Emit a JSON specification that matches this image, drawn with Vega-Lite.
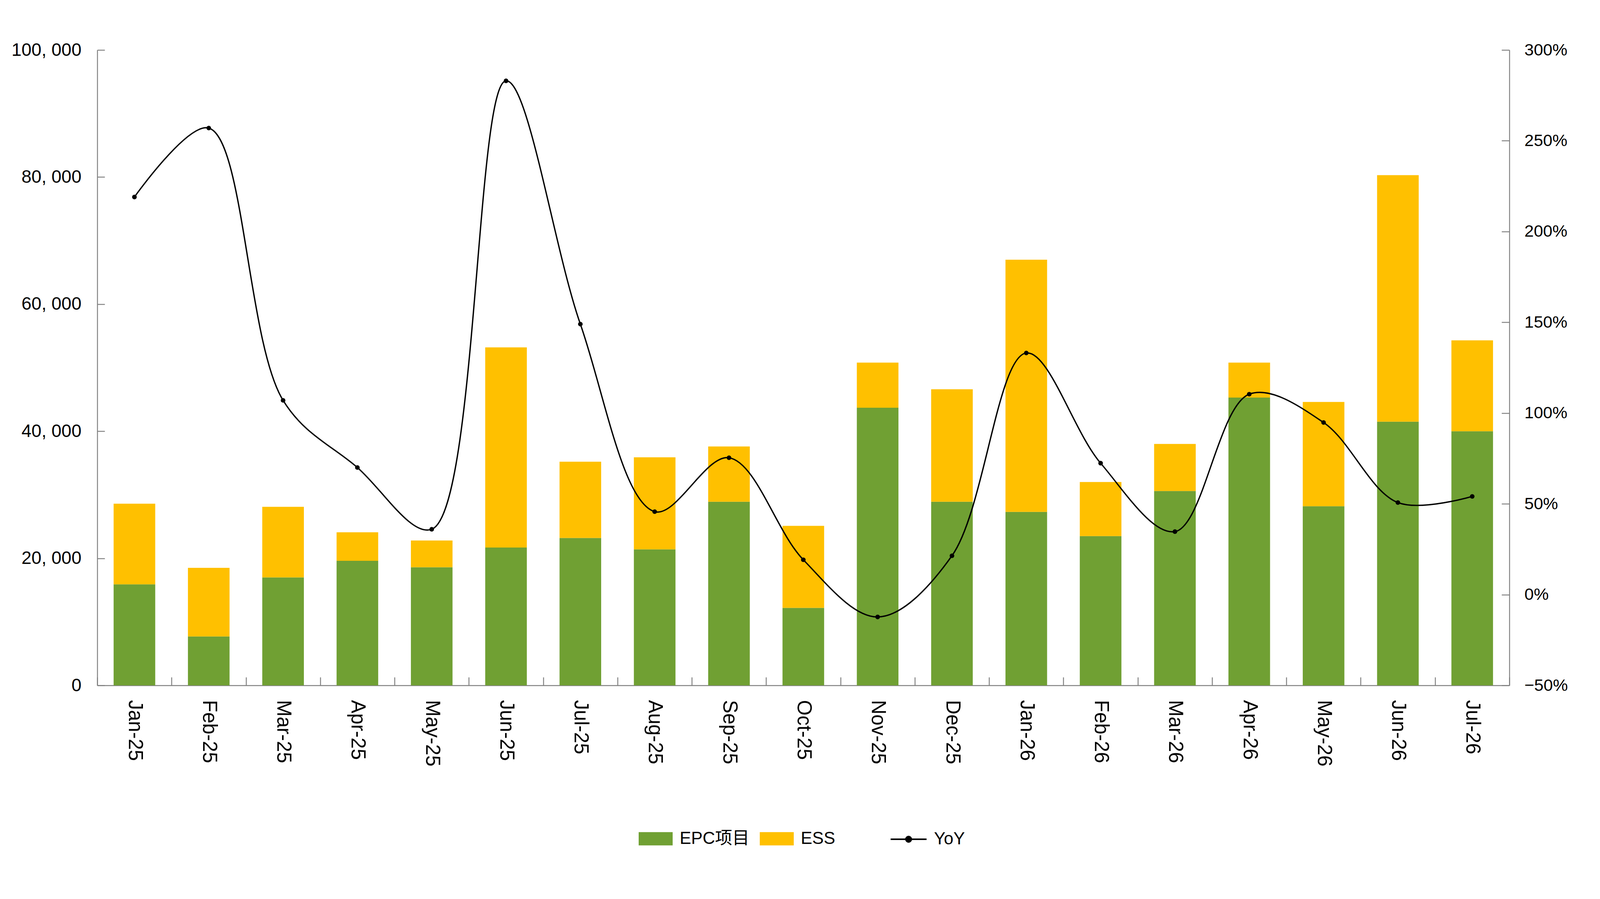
{
  "$schema": "https://vega.github.io/schema/vega-lite/v6.json",
  "width": 3615,
  "height": 1627,
  "autosize": {"type": "none"},
  "padding": {"left": 249, "top": 128, "right": 235, "bottom": 471},
  "background": "white",
  "config": {
    "view": {"stroke": null},
    "axis": {"domainColor": "#808080", "tickColor": "#808080", "domainWidth": 2.4, "tickWidth": 2.4, "grid": false, "labelColor": "black", "title": null, "labelLimit": 500}
  },
  "datasets": {
    "bars": [
      {"month": "Jan-25", "type": "EPC项目", "value": 15900}, {"month": "Jan-25", "type": "ESS", "value": 12700},
      {"month": "Feb-25", "type": "EPC项目", "value": 7700}, {"month": "Feb-25", "type": "ESS", "value": 10800},
      {"month": "Mar-25", "type": "EPC项目", "value": 17000}, {"month": "Mar-25", "type": "ESS", "value": 11100},
      {"month": "Apr-25", "type": "EPC项目", "value": 19600}, {"month": "Apr-25", "type": "ESS", "value": 4500},
      {"month": "May-25", "type": "EPC项目", "value": 18600}, {"month": "May-25", "type": "ESS", "value": 4200},
      {"month": "Jun-25", "type": "EPC项目", "value": 21700}, {"month": "Jun-25", "type": "ESS", "value": 31500},
      {"month": "Jul-25", "type": "EPC项目", "value": 23200}, {"month": "Jul-25", "type": "ESS", "value": 12000},
      {"month": "Aug-25", "type": "EPC项目", "value": 21400}, {"month": "Aug-25", "type": "ESS", "value": 14500},
      {"month": "Sep-25", "type": "EPC项目", "value": 28900}, {"month": "Sep-25", "type": "ESS", "value": 8700},
      {"month": "Oct-25", "type": "EPC项目", "value": 12200}, {"month": "Oct-25", "type": "ESS", "value": 12900},
      {"month": "Nov-25", "type": "EPC项目", "value": 43700}, {"month": "Nov-25", "type": "ESS", "value": 7100},
      {"month": "Dec-25", "type": "EPC项目", "value": 28900}, {"month": "Dec-25", "type": "ESS", "value": 17700},
      {"month": "Jan-26", "type": "EPC项目", "value": 27300}, {"month": "Jan-26", "type": "ESS", "value": 39700},
      {"month": "Feb-26", "type": "EPC项目", "value": 23500}, {"month": "Feb-26", "type": "ESS", "value": 8500},
      {"month": "Mar-26", "type": "EPC项目", "value": 30600}, {"month": "Mar-26", "type": "ESS", "value": 7400},
      {"month": "Apr-26", "type": "EPC项目", "value": 45300}, {"month": "Apr-26", "type": "ESS", "value": 5500},
      {"month": "May-26", "type": "EPC项目", "value": 28200}, {"month": "May-26", "type": "ESS", "value": 16400},
      {"month": "Jun-26", "type": "EPC项目", "value": 41500}, {"month": "Jun-26", "type": "ESS", "value": 38800},
      {"month": "Jul-26", "type": "EPC项目", "value": 40000}, {"month": "Jul-26", "type": "ESS", "value": 14300}
    ],
    "yoy": [
      {"month": "Jan-25", "yoy": 2.19}, {"month": "Feb-25", "yoy": 2.57}, {"month": "Mar-25", "yoy": 1.07},
      {"month": "Apr-25", "yoy": 0.70}, {"month": "May-25", "yoy": 0.36}, {"month": "Jun-25", "yoy": 2.83},
      {"month": "Jul-25", "yoy": 1.49}, {"month": "Aug-25", "yoy": 0.457}, {"month": "Sep-25", "yoy": 0.754},
      {"month": "Oct-25", "yoy": 0.192}, {"month": "Nov-25", "yoy": -0.123}, {"month": "Dec-25", "yoy": 0.214},
      {"month": "Jan-26", "yoy": 1.331}, {"month": "Feb-26", "yoy": 0.724}, {"month": "Mar-26", "yoy": 0.347},
      {"month": "Apr-26", "yoy": 1.104}, {"month": "May-26", "yoy": 0.948}, {"month": "Jun-26", "yoy": 0.507},
      {"month": "Jul-26", "yoy": 0.541}
    ]
  },
  "encoding": {
    "x": {
      "field": "month", "type": "ordinal", "sort": null,
      "scale": {"paddingInner": 0, "paddingOuter": 0},
      "axis": {"labelAngle": 90, "labelFont": "Liberation Sans", "labelFontSize": 51, "tickSize": -21, "tickBand": "extent", "labelPadding": 58, "labelAlign": "left", "labelBaseline": "middle"}
    }
  },
  "layer": [
    {
      "data": {"name": "bars"},
      "mark": {"type": "bar", "width": {"band": 0.56}},
      "encoding": {
        "y": {
          "field": "value", "type": "quantitative", "stack": "zero",
          "scale": {"domain": [0, 100000], "nice": false},
          "axis": {"orient": "left", "values": [0, 20000, 40000, 60000, 80000, 100000], "labelExpr": "replace(format(datum.value, ','), ',', ', ')", "labelFont": "Liberation Sans", "labelFontSize": 46, "tickSize": -19, "labelPadding": 60}
        },
        "color": {
          "field": "type", "type": "nominal",
          "scale": {"domain": ["EPC项目", "ESS"], "range": ["#70A033", "#FFC000"]},
          "legend": {"orient": "none", "legendX": 1386, "legendY": 1976, "direction": "horizontal", "title": null, "padding": 0, "symbolType": "M-1,-0.39H1V0.39H-1Z", "symbolSize": 7569, "symbolStrokeWidth": 0, "labelFont": "Liberation Sans, Noto Sans CJK SC", "labelFontSize": 44, "labelOffset": 18, "columnPadding": 26, "labelLimit": 500}
        },
        "order": {"field": "type", "type": "nominal"}
      }
    },
    {
      "data": {"name": "yoy"},
      "encoding": {
        "y": {
          "field": "yoy", "type": "quantitative",
          "scale": {"domain": [-0.5, 3], "nice": false},
          "axis": {"orient": "right", "values": [-0.5, 0, 0.5, 1, 1.5, 2, 2.5, 3], "format": ".0%", "labelFont": "Liberation Sans", "labelFontSize": 43, "tickSize": -20, "labelPadding": 58}
        }
      },
      "layer": [
        {
          "mark": {"type": "line", "interpolate": "catmull-rom", "strokeWidth": 3.4},
          "encoding": {
            "stroke": {"datum": "YoY", "type": "nominal", "scale": {"range": ["black"]},
              "legend": {"orient": "none", "legendX": 2029, "legendY": 1973, "title": null, "padding": 0, "symbolType": "M-1,0H1M-0.15,0A0.15,0.15 0 1 0 0.15,0A0.15,0.15 0 1 0 -0.15,0Z", "symbolSize": 8464, "symbolStrokeWidth": 4, "symbolStrokeColor": "black", "symbolFillColor": "black", "labelFont": "Liberation Sans", "labelFontSize": 44, "labelOffset": 17, "labelLimit": 500}
            }
          }
        },
        {
          "mark": {"type": "point", "filled": true, "size": 140, "color": "black", "opacity": 1}
        }
      ]
    }
  ],
  "resolve": {"scale": {"y": "independent"}}
}
